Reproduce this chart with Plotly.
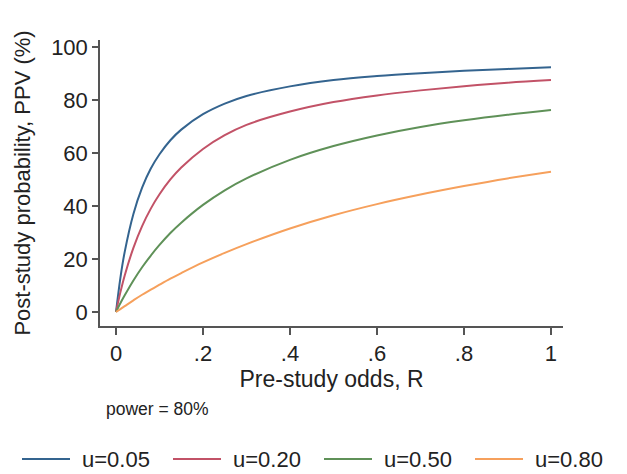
import plotly.graph_objects as go

# Pre-study odds R (x values read along the axis)
R = [0, 0.01, 0.02, 0.04, 0.06, 0.08, 0.10, 0.125, 0.15, 0.20, 0.25, 0.30,
     0.40, 0.50, 0.60, 0.70, 0.80, 0.90, 1.00]

# PPV (%), one list per bias level u
ppv_u005 = [0, 12.8, 22.7, 37.0, 46.9, 54.1, 59.5, 64.8, 68.8, 74.6, 78.6, 81.5,
            85.1, 87.5, 89.0, 90.1, 91.0, 91.7, 92.3]
ppv_u020 = [0, 7.4, 13.8, 24.2, 32.4, 39.0, 44.4, 50.0, 54.5, 61.5, 66.7, 70.6,
            75.6, 79.2, 81.7, 83.6, 85.2, 86.5, 87.5]
ppv_u050 = [0, 3.3, 6.3, 11.9, 16.9, 21.3, 25.3, 29.8, 33.7, 40.4, 45.9, 50.4,
            57.4, 62.6, 66.6, 69.8, 72.3, 74.4, 76.2]
ppv_u080 = [0, 1.1, 2.2, 4.4, 6.5, 8.4, 10.3, 12.6, 14.7, 18.7, 22.3, 25.6,
            31.5, 36.5, 40.7, 44.3, 47.5, 50.4, 52.9]

series_names = ["u=0.05", "u=0.20", "u=0.50", "u=0.80"]
series_vals = [ppv_u005, ppv_u020, ppv_u050, ppv_u080]
colors = ["#34648f", "#c25267", "#5f9158", "#f6a05c"]

x_tickvals = [0, 0.2, 0.4, 0.6, 0.8, 1.0]
x_ticktext = ["0", ".2", ".4", ".6", ".8", "1"]
y_tickvals = [0, 20, 40, 60, 80, 100]

FONT = "Liberation Sans, Arial, Helvetica, sans-serif"
TXT = "#222222"
AX = "#555555"

# page body has an 8px margin, so the figure is placed at (8, 8)
OFF = 8
W, H = 627 - OFF, 474 - OFF
PL, PR, PT, PB = 100, 563, 40, 326          # plot area in window pixels
ML, MT = PL - OFF, PT - OFF
MR, MB = W - ML - (PR - PL), H - MT - (PB - PT)


def px_x(px):
    return (px - PL) / (PR - PL)


def px_y(py):
    return (PB - py) / (PB - PT)


fig = go.Figure()
for name, vals, col in zip(series_names, series_vals, colors):
    fig.add_trace(go.Scatter(
        x=R, y=vals, mode="lines", name=name,
        line=dict(color=col, width=2, shape="spline", smoothing=1.0),
        hovertemplate=name + "<br>R=%{x}<br>PPV=%{y}%<extra></extra>",
    ))

# legend drawn below the plot, one row, like the reference
legend_line_starts = [22, 173, 324, 475]
LEG_Y = 459
shapes = []
annotations = []
for name, col, x0 in zip(series_names, colors, legend_line_starts):
    shapes.append(dict(type="line", xref="paper", yref="paper",
                       x0=px_x(x0), x1=px_x(x0 + 48), y0=px_y(LEG_Y), y1=px_y(LEG_Y),
                       line=dict(color=col, width=2)))
    annotations.append(dict(text=name, xref="paper", yref="paper",
                            x=px_x(x0 + 58), y=px_y(LEG_Y), xanchor="left", yanchor="middle",
                            showarrow=False, font=dict(size=22, color=TXT)))

annotations.append(dict(
    text="power = 80%", xref="paper", yref="paper",
    x=px_x(104), y=px_y(409), xanchor="left", yanchor="middle",
    showarrow=False, font=dict(size=17.5, color=TXT),
))

fig.update_layout(
    width=W, height=H,
    margin=dict(l=ML, r=MR, t=MT, b=MB, autoexpand=False),
    paper_bgcolor="white", plot_bgcolor="white",
    font=dict(family=FONT, color=TXT, size=22),
    showlegend=False,
    xaxis=dict(
        range=[-0.0368, 1.0276], tickvals=x_tickvals, ticktext=x_ticktext,
        showline=True, linecolor=AX, linewidth=1.5, mirror=False,
        ticks="outside", ticklen=7, tickcolor=AX, tickwidth=1.5,
        showgrid=False, zeroline=False,
        tickfont=dict(size=22, color=TXT),
        title=dict(text="Pre-study odds, R", font=dict(size=23, color=TXT), standoff=4),
    ),
    yaxis=dict(
        range=[-5.28, 102.6], tickvals=y_tickvals,
        showline=True, linecolor=AX, linewidth=1.5, mirror=False,
        ticks="outside", ticklen=6, tickcolor=AX, tickwidth=1.5,
        showgrid=False, zeroline=False,
        tickfont=dict(size=22, color=TXT),
        title=dict(text="Post-study probability, PPV (%)", font=dict(size=22, color=TXT), standoff=14),
    ),
    shapes=shapes,
    annotations=annotations,
)

fig.write_html("out.html")
